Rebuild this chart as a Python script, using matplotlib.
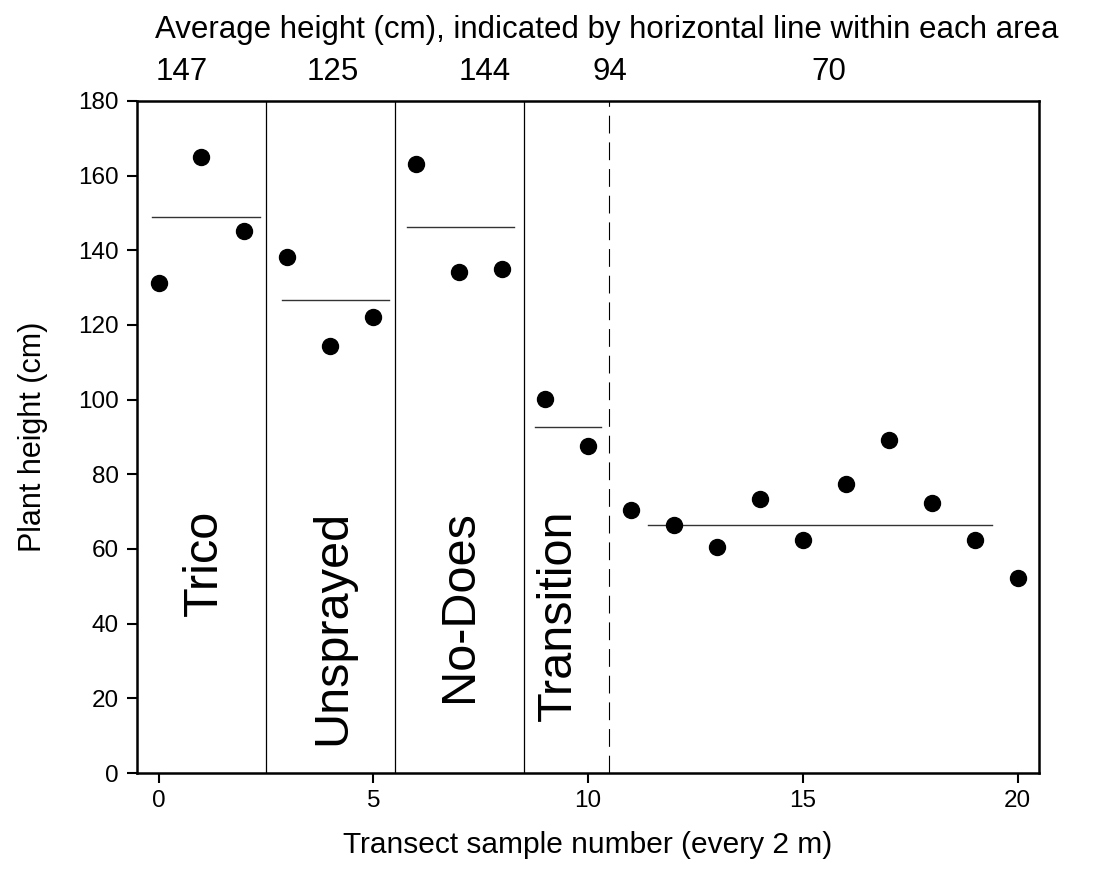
import matplotlib
matplotlib.use("Agg")
import matplotlib.pyplot as plt
import matplotlib.transforms as mtransforms

plt.rcParams['font.family'] = ['Liberation Sans', 'DejaVu Sans']

# ---- data ----
sample = list(range(21))
height = [131.3, 165.1, 145.2, 138.2, 114.3, 122.2, 163.1, 134.2, 135.1,
          100.2, 87.5, 70.5, 66.4, 60.4, 73.4, 62.4, 77.3, 89.3, 72.3, 62.4, 52.3]

area_names = ["Trico", "Unsprayed", "No-Does", "Transition"]
area_bounds = [2.5, 5.5, 8.5]
dashed_bound = 10.5

avg_labels = ["147", "125", "144", "94", "70"]
mean_level = [148.8, 126.7, 146.3, 92.8, 66.4]
mean_start = [-0.15, 2.87, 5.78, 8.77, 11.4]
mean_end = [2.36, 5.36, 8.27, 10.3, 19.4]

# ---- layout ----
fig = plt.figure(figsize=(10.99, 8.88), dpi=100)
ax = fig.add_axes([0.1247, 0.1295, 0.8207, 0.7568])

ax.plot(sample, height, 'o', color='black', markersize=11.5, zorder=3)

for lvl, s, e in zip(mean_level, mean_start, mean_end):
    ax.plot([s, e], [lvl, lvl], color='#333333', linewidth=1.0, zorder=2)

for b in area_bounds:
    ax.axvline(b, color='black', linewidth=0.9, zorder=1)
ax.axvline(dashed_bound, color='black', linewidth=0.8, linestyle=(0, (16, 8)), zorder=1)

name_x = [1.35, 4.35, 7.3, 9.6]
for nm, xx in zip(area_names, name_x):
    ax.text(xx, 70.5, nm, rotation=90, rotation_mode='anchor', ha='right',
            va='baseline', fontsize=35)

ax.set_xlim(-0.5, 20.5)
ax.set_ylim(0, 180)
ax.set_xticks([0, 5, 10, 15, 20])
ax.set_yticks(range(0, 181, 20))
ax.tick_params(axis='both', direction='out', length=7, width=1.5, labelsize=17.5)
ax.tick_params(axis='x', pad=5)
ax.tick_params(axis='y', pad=6)
for sp in ax.spines.values():
    sp.set_linewidth(1.8)

fig.text(0.535, 0.048, "Transect sample number (every 2 m)", ha='center', va='center',
         fontsize=21.5)
fig.text(0.03, 0.508, "Plant height (cm)", rotation=90, ha='center', va='center',
         fontsize=22)

trans = mtransforms.blended_transform_factory(ax.transData, fig.transFigure)
label_x = [0.55, 4.05, 7.6, 10.5, 15.6]
for lab, xx in zip(avg_labels, label_x):
    ax.text(xx, 0.919, lab, transform=trans, ha='center', va='center', fontsize=22.5)

fig.text(0.552, 0.966, "Average height (cm), indicated by horizontal line within each area",
         ha='center', va='center', fontsize=22.5)

fig.savefig("out.png", dpi=100, facecolor='white')
